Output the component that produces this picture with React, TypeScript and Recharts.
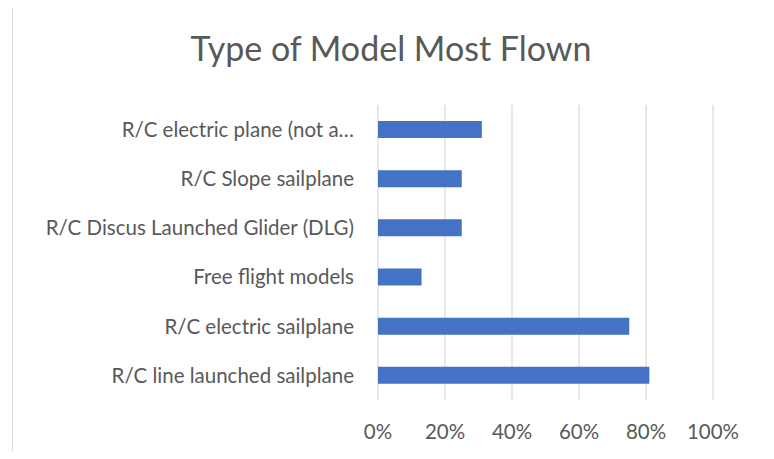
import React from 'react';
import { BarChart, Bar, XAxis, YAxis, CartesianGrid } from 'recharts';

const categories = [
  'R/C electric plane (not a…',
  'R/C Slope sailplane',
  'R/C Discus Launched Glider (DLG)',
  'Free flight models',
  'R/C electric sailplane',
  'R/C line launched sailplane',
];
const shares = [0.31, 0.25, 0.25, 0.13, 0.75, 0.81];
const xTicks = [0, 0.2, 0.4, 0.6, 0.8, 1];

const data = categories.map((name, i) => ({ name, value: shares[i] }));

const FONT = 'Lato, "Open Sans", sans-serif';
const TEXT = '#595959';

export default function App() {
  return (
    <div style={{ position: 'relative', width: 774, height: 459, margin: -8, overflow: 'hidden', background: '#fff' }}>
      {/* chart frame */}
      <div
        style={{
          position: 'absolute',
          left: 12,
          top: 5,
          width: 756,
          height: 480,
          border: '1px solid #d9d9d9',
        }}
      />
      <div
        style={{
          position: 'absolute',
          left: 12,
          width: 758,
          top: 27,
          textAlign: 'center',
          fontFamily: FONT,
          fontSize: 34,
          color: TEXT,
          lineHeight: '42px',
        }}
      >
        Type of Model Most Flown
      </div>
      <div style={{ position: 'absolute', left: 0, top: 0 }}>
        <BarChart
          width={774}
          height={459}
          data={data}
          layout="vertical"
          margin={{ top: 105, right: 61, bottom: 0, left: 0 }}
        >
          <CartesianGrid horizontal={false} stroke="#d9d9d9" strokeWidth={1.2} />
          <XAxis
            type="number"
            domain={[0, 1]}
            ticks={xTicks}
            tickFormatter={(v: number) => `${Math.round(v * 100)}%`}
            axisLine={false}
            tickLine={false}
            tickSize={0}
            tickMargin={24}
            height={59}
            interval={0}
            tick={{ fontSize: 20.5, fill: TEXT, fontFamily: FONT }}
          />
          <YAxis
            type="category"
            dataKey="name"
            width={378}
            axisLine={false}
            tickLine={false}
            tickSize={0}
            tickMargin={24}
            interval={0}
            tick={{ fontSize: 20.5, fill: TEXT, fontFamily: FONT }}
          />
          <Bar dataKey="value" fill="#4472C4" barSize={17} isAnimationActive={false} />
        </BarChart>
      </div>
    </div>
  );
}
